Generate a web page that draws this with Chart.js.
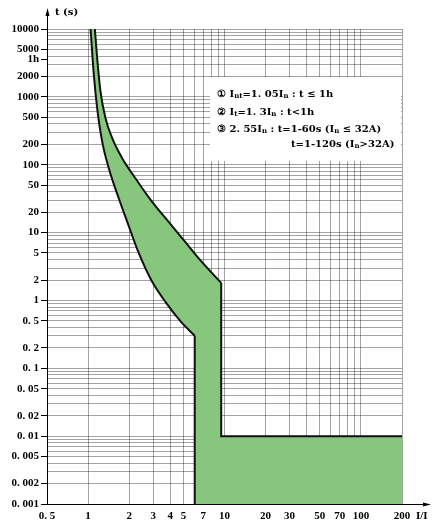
<!DOCTYPE html>
<html><head><meta charset="utf-8">
<script src="https://cdn.jsdelivr.net/npm/chart.js@4"></script>
<style>html,body{margin:0;padding:0;background:#fff}</style>
</head><body>
<canvas id="c" width="433" height="523" style="width:433px;height:523px;display:block"></canvas>
<script>
// ---- tick labels ----
const xTickValues = [0.5, 1, 2, 3, 4, 5, 7, 10, 20, 30, 50, 70, 100, 200];
const xTickLabels = ['0. 5', '1', '2', '3', '4', '5', '7', '10', '20', '30', '50', '70', '100', '200'];
const xGridValues = [1, 2, 3, 4, 5, 6, 7, 8, 9, 10, 20, 30, 40, 50, 60, 70, 80, 90, 100, 200];
const yTickValues = [10000, 5000, 3600, 2000, 1000, 500, 200, 100, 50, 20, 10, 5, 2, 1, 0.5, 0.2, 0.1, 0.05, 0.02, 0.01, 0.005, 0.002, 0.001];
const yTickLabels = ['10000', '5000', '1h', '2000', '1000', '500', '200', '100', '50', '20', '10', '5', '2', '1', '0. 5', '0. 2', '0. 1', '0. 05', '0. 02', '0. 01', '0. 005', '0. 002', '0. 001'];
const yGridMultipliers = [1, 2, 3, 4, 5, 6, 7, 8, 9];
const yGridDecades = [0.001, 0.01, 0.1, 1, 10, 100, 1000];

// ---- curve data (I/In, t in s) ----
const lowerI = [1.043, 1.102, 1.166, 1.268, 1.417, 1.675, 1.970, 2.33, 2.896, 3.724, 4.786, 6.05];
const lowerT = [10000, 2121, 685, 221, 89.5, 32.3, 13.1, 5.23, 2.02, 0.927, 0.486, 0.302];
const upperI = [1.121, 1.166, 1.233, 1.341, 1.500, 1.773, 2.216, 2.931, 3.870, 5.117, 6.77, 9.46];
const upperT = [10000, 3740, 1204, 488, 248, 126, 63.7, 28.8, 14.6, 7.41, 3.76, 1.81];
const tripLowI = 6.05;     // instantaneous release lower limit
const tripHighI = 9.46;    // instantaneous release upper limit
const tripT = 0.01;        // instantaneous trip time
const tMin = 0.001, tMax = 10000, iMin = 0.5, iMax = 200;

const legendLines = [
  [['① ', 0], ['I', 0], ['nt', 1], ['=1. 05I', 0], ['n', 1], [' : t ≤ 1h', 0]],
  [['② ', 0], ['I', 0], ['t', 1], ['=1. 3I', 0], ['n', 1], [' : t<1h', 0]],
  [['③ ', 0], ['2. 55I', 0], ['n', 1], [' : t=1-60s (I', 0], ['n', 1], [' ≤ 32A)', 0]],
  [['t=1-120s (I', 0], ['n', 1], ['>32A)', 0]]
];

const pts = (xs, ys) => xs.map((x, i) => ({x, y: ys[i]}));
const near = (a, b) => Math.abs(a - b) <= Math.abs(b) * 1e-6;
const idxOf = (arr, v) => arr.findIndex(a => near(v, a));

const yGridValues = [];
yGridDecades.forEach(d => yGridMultipliers.forEach(m => yGridValues.push(+(d * m).toPrecision(6))));
yGridValues.push(10000);

const xAll = Array.from(new Set([...xTickValues, ...xGridValues])).sort((a, b) => a - b);
const yAll = Array.from(new Set([...yTickValues, ...yGridValues])).sort((a, b) => a - b);

const lowerPts = pts(lowerI, lowerT);
const upperPts = pts(upperI, upperT);
const shape = [
  ...lowerPts,
  {x: tripLowI, y: tMin}, {x: iMax, y: tMin}, {x: iMax, y: tripT}, {x: tripHighI, y: tripT},
  ...upperPts.slice().reverse()
];

const FONT = "'Liberation Serif', 'DejaVu Serif', serif";
const LFONT = "'DejaVu Serif', 'Liberation Serif', serif";
const GRID = 'rgba(0,0,0,0.36)';
const GREEN = '#87c77d';

const decor = {
  id: 'decor',
  afterDatasetsDraw(chart) {
    const ctx = chart.ctx;
    ctx.save();
    ctx.fillStyle = '#fff';
    ctx.fillRect(210, 77, 191, 84);
    ctx.fillStyle = '#000';
    ctx.textBaseline = 'alphabetic';
    const starts = [[217, 97], [217, 115], [217, 132], [291, 147]];
    legendLines.forEach((parts, li) => {
      let [x, y] = starts[li];
      parts.forEach(([t, sub]) => {
        ctx.font = sub ? "bold 7px " + LFONT : "bold 10px " + LFONT;
        ctx.fillText(t, x, y + (sub ? 1 : 0));
        x += ctx.measureText(t).width;
      });
    });
    ctx.restore();
  },
  afterDraw(chart) {
    const {ctx, chartArea: a} = chart;
    ctx.save();
    ctx.strokeStyle = '#000';
    ctx.fillStyle = '#000';
    ctx.lineWidth = 1;
    const lx = Math.round(a.left) + 0.5;
    const by = Math.round(a.bottom) + 0.5;
    ctx.beginPath(); ctx.moveTo(lx, a.top); ctx.lineTo(lx, 12); ctx.stroke();
    ctx.beginPath(); ctx.moveTo(lx, 8); ctx.lineTo(lx - 2, 16); ctx.lineTo(lx + 2, 16); ctx.closePath(); ctx.fill();
    ctx.beginPath(); ctx.moveTo(a.right, by); ctx.lineTo(425, by); ctx.stroke();
    ctx.beginPath(); ctx.moveTo(431, by); ctx.lineTo(423, by - 2); ctx.lineTo(423, by + 2); ctx.closePath(); ctx.fill();
    ctx.font = "bold 10px " + LFONT;
    ctx.textBaseline = 'middle';
    ctx.fillText('t (s)', 55, 12);
    ctx.font = "bold 11px " + FONT;
    ctx.fillText('I/I', 416, 516);
    ctx.restore();
  }
};

const lineStyle = {showLine: true, borderColor: '#111', borderWidth: 2, pointRadius: 0, order: 1};

new Chart(document.getElementById('c'), {
  type: 'scatter',
  data: {
    datasets: [
      {...lineStyle, data: lowerPts, cubicInterpolationMode: 'monotone'},
      {...lineStyle, data: [{x: tripLowI, y: lowerT[lowerT.length - 1]}, {x: tripLowI, y: tMin}], tension: 0},
      {...lineStyle, data: upperPts, cubicInterpolationMode: 'monotone'},
      {...lineStyle, data: [{x: tripHighI, y: upperT[upperT.length - 1]}, {x: tripHighI, y: tripT}, {x: iMax, y: tripT}], tension: 0},
      {data: shape, showLine: true, borderWidth: 0, borderColor: 'rgba(0,0,0,0)', backgroundColor: GREEN, fill: 'shape', pointRadius: 0, tension: 0, order: 2}
    ]
  },
  options: {
    responsive: false,
    animation: false,
    layout: {padding: {left: 0, right: 31, top: 29, bottom: 0}},
    plugins: {legend: {display: false}, tooltip: {enabled: false}},
    scales: {
      x: {
        type: 'logarithmic', min: iMin, max: iMax, position: 'bottom',
        afterBuildTicks: s => { s.ticks = xAll.map(v => ({value: v})); },
        afterFit: s => { s.height = 19; },
        ticks: {
          autoSkip: false, maxRotation: 0, padding: 6, color: '#000',
          font: {family: FONT, weight: 'bold', size: 11},
          callback: v => { const i = idxOf(xTickValues, v); return i >= 0 ? xTickLabels[i] : ''; }
        },
        grid: {
          drawTicks: false, lineWidth: 1,
          color: c => (c.tick && idxOf(xGridValues, c.tick.value) >= 0) ? GRID : 'rgba(0,0,0,0)'
        },
        border: {color: '#000', width: 1}
      },
      y: {
        type: 'logarithmic', min: tMin, max: tMax,
        afterBuildTicks: s => { s.ticks = yAll.map(v => ({value: v})); },
        afterFit: s => { s.width = 47; },
        ticks: {
          autoSkip: false, padding: 2, color: '#000',
          font: {family: FONT, weight: 'bold', size: 11},
          callback: v => { const i = idxOf(yTickValues, v); return i >= 0 ? yTickLabels[i] : ''; }
        },
        grid: {
          tickLength: 6, lineWidth: 1,
          color: c => (c.tick && idxOf(yGridValues, c.tick.value) >= 0) ? GRID : 'rgba(0,0,0,0)',
          tickColor: c => (c.tick && idxOf(yTickValues, c.tick.value) >= 0) ? '#000' : 'rgba(0,0,0,0)'
        },
        border: {color: '#000', width: 1}
      }
    }
  },
  plugins: [decor]
});
</script>
</body></html>
